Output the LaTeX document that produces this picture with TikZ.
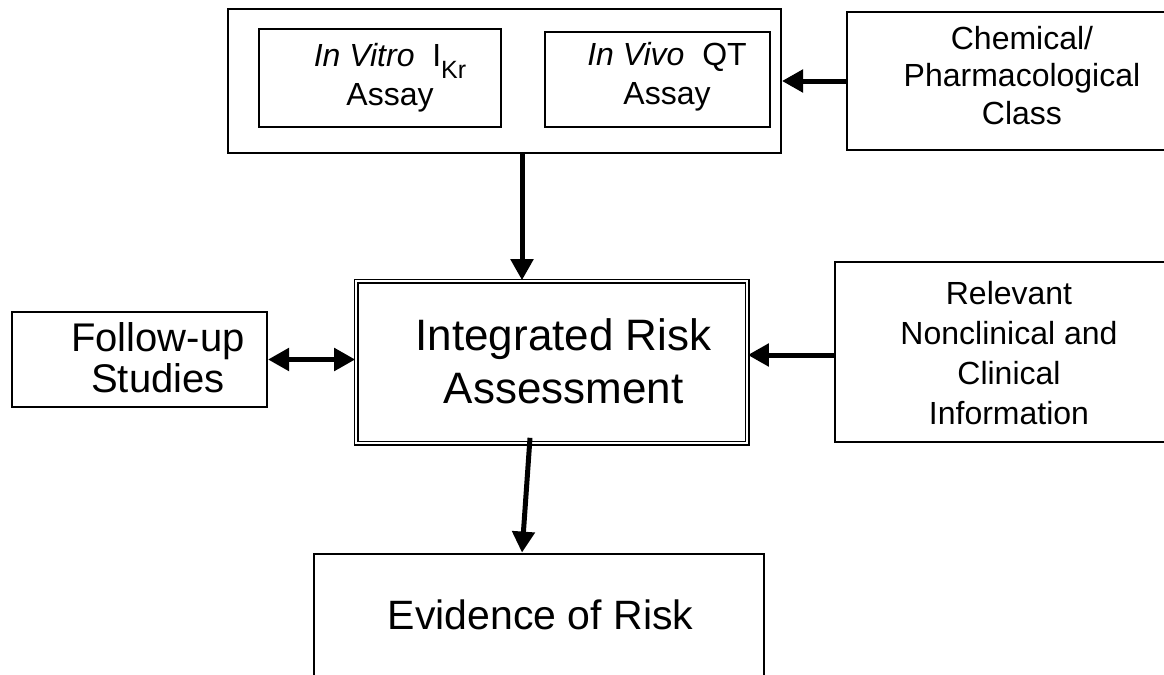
\documentclass[tikz,border=0pt]{standalone}
\usepackage{fontspec}
\setmainfont{Liberation Sans}
\usetikzlibrary{arrows.meta}

\begin{document}
\begin{tikzpicture}[
        x=0.5pt, y=-0.5pt,
        box/.style={rectangle, draw=black, line width=1pt, inner sep=0pt},
        dbox/.style={rectangle, draw=black, line width=0.8pt, double, double distance=0.9pt, inner sep=0pt},
        txt/.style={align=center, inner sep=0pt},
        small/.style={font=\fontsize{16}{19.5}\selectfont},
        big/.style={font=\fontsize{22}{26.5}\selectfont},
        connect/.style={line width=2.5pt, draw=black, >={Triangle[length=10.5pt, width=11pt]}}
    ]
        % Marco de la imagen (las cajas de la derecha y de abajo quedan cortadas)
        \path[use as bounding box, fill=white] (0,0) rectangle (1164,675);
        \clip (0,0) rectangle (1164,675);

        % Cajas
        \node[box, minimum width=276.5pt, minimum height=72pt] (assays) at (504.5,81) {};
        \node[box, minimum width=121pt, minimum height=49pt] (vitro) at (380,78) {};
        \node[box, minimum width=112.5pt, minimum height=47.5pt] (vivo) at (657.5,79.5) {};
        \node[box, minimum width=175pt, minimum height=69pt] (chem) at (1022,81) {};
        \node[dbox, minimum width=195.5pt, minimum height=81pt] (risk) at (551.5,362) {};
        \node[box, minimum width=174pt, minimum height=90pt] (info) at (1009,352) {};
        \node[box, minimum width=127.5pt, minimum height=47.5pt] (follow) at (139.5,359.5) {};
        \node[box, line width=1.4pt, minimum width=225pt, minimum height=63pt] (evidence) at (539,617) {};

        % Textos
        \node[txt, small] (vitrotxt) at (390,77.9) {\textit{In Vitro}\ \ I\raisebox{-5.8pt}{\fontsize{12.5}{12.5}\selectfont Kr}\\Assay};
        \node[txt, small] (vivotxt) at (667,76.7) {\textit{In Vivo}\ \ QT\\Assay};
        \node[txt, font=\fontsize{16}{18.75}\selectfont] (chemtxt) at (1022,75.5) {Chemical/\\Pharmacological\\Class};
        \node[txt, font=\fontsize{16}{20}\selectfont] (infotxt) at (1009,353.5) {Relevant\\Nonclinical and\\Clinical\\Information};
        \node[txt, big] (risktxt) at (563.5,361) {Integrated Risk\\Assessment};
        \node[txt, font=\fontsize{20}{20.5}\selectfont] (followtxt) at (158,357.8) {Follow-up\\Studies};
        \node[txt, font=\fontsize{20.5}{24}\selectfont] (evidencetxt) at (540.5,615) {Evidence of Risk};

        % Flechas
        \draw[connect, ->] ([xshift=8.75pt]assays.south) -- ([xshift=8.75pt]assays.south |- risk.north);
        \draw[connect, ->] (chem.west) -- (assays.east);
        \draw[connect, ->] ([yshift=-1.5pt]info.west) -- ([yshift=-1.5pt]info.west -| risk.east);
        \draw[connect, <->] (follow.east) -- (follow.east -| risk.west);
        \draw[connect, ->] ([xshift=-10.75pt, yshift=3pt]risk.south) -- ([xshift=-8.5pt]evidence.north);
    \end{tikzpicture}
\end{document}
